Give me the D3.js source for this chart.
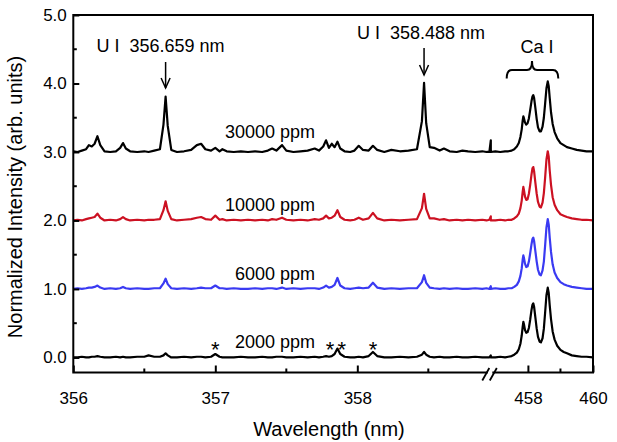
<!DOCTYPE html>
<html><head><meta charset="utf-8">
<script src="https://cdn.jsdelivr.net/npm/d3@7"></script>
<style>
body{margin:0;background:#fff}
svg{display:block}
text{font-family:"Liberation Sans",Arial,Helvetica,sans-serif;fill:#000}
</style>
</head><body>
<svg id="chart" width="617" height="442"></svg>
<script>
// ---------------- DATA ----------------
const waveLeft = [
356.00, 356.03, 356.06, 356.09, 356.11, 356.13, 356.15, 356.17, 356.19, 356.22,
356.26, 356.30, 356.33, 356.35, 356.37, 356.40, 356.45, 356.50, 356.53, 356.57,
356.61, 356.635, 356.65, 356.665, 356.69, 356.73, 356.78, 356.83, 356.87, 356.90,
356.93, 356.97, 357.00, 357.03, 357.05, 357.08, 357.13, 357.18, 357.23, 357.28,
357.33, 357.37, 357.40, 357.43, 357.47, 357.50, 357.55, 357.60, 357.65, 357.70,
357.73, 357.76, 357.78, 357.80, 357.82, 357.84, 357.86, 357.88, 357.91, 357.95,
357.98, 358.01, 358.04, 358.08, 358.11, 358.14, 358.19, 358.24, 358.30, 358.36,
358.42, 358.455, 358.47, 358.485, 358.51, 358.54, 358.58, 358.61, 358.65, 358.70,
358.74, 358.78, 358.83, 358.88, 358.91, 358.93, 358.94];

const waveRight = [
456.86, 457.00, 457.15, 457.30, 457.40, 457.50, 457.58, 457.66, 457.72, 457.77,
457.81, 457.84, 457.86, 457.88, 457.91, 457.95, 457.99, 458.03, 458.07, 458.11,
458.14, 458.165, 458.19, 458.23, 458.27, 458.31, 458.36, 458.40, 458.45, 458.49,
458.53, 458.57, 458.61, 458.64, 458.67, 458.71, 458.76, 458.82, 458.90, 459.00,
459.10, 459.20, 459.35, 459.50, 459.65, 459.80, 460.00];

const ppm2000Left = [
0.00, 0.00, 0.01, 0.00, 0.00, 0.01, 0.01, 0.02, 0.01, 0.00,
0.00, 0.01, 0.00, 0.01, 0.00, 0.00, 0.01, 0.01, 0.03, 0.01,
0.01, 0.03, 0.06, 0.03, 0.00, 0.00, 0.01, 0.00, 0.01, 0.01,
0.00, 0.01, 0.05, 0.01, 0.00, 0.00, 0.00, 0.01, 0.00, 0.00,
0.01, 0.00, 0.00, 0.01, 0.01, 0.00, 0.00, 0.01, 0.00, 0.01,
0.00, 0.01, 0.02, 0.01, 0.02, 0.05, 0.13, 0.05, 0.01, 0.00,
0.00, 0.01, 0.00, 0.02, 0.08, 0.02, 0.00, 0.00, 0.01, 0.00,
0.01, 0.04, 0.08, 0.04, 0.01, 0.00, 0.01, 0.00, 0.00, 0.01,
0.00, 0.00, 0.01, 0.00, 0.00, 0.00, 0.03];
const ppm2000Right = [
0.00, 0.00, 0.01, 0.00, 0.01, 0.02, 0.04, 0.07, 0.12, 0.20,
0.32, 0.45, 0.52, 0.48, 0.40, 0.36, 0.37, 0.43, 0.55, 0.69,
0.77, 0.79, 0.74, 0.58, 0.42, 0.30, 0.23, 0.22, 0.28, 0.42,
0.66, 0.91, 1.02, 0.94, 0.76, 0.56, 0.38, 0.26, 0.17, 0.11,
0.08, 0.06, 0.03, 0.02, 0.01, 0.01, 0.00];

const ppm6000Left = [
0.00, 0.01, 0.00, 0.01, 0.02, 0.02, 0.03, 0.05, 0.02, 0.00,
0.01, 0.00, 0.01, 0.03, 0.01, 0.00, 0.01, 0.00, 0.00, 0.01,
0.01, 0.08, 0.15, 0.07, 0.01, 0.00, 0.01, 0.00, 0.01, 0.02,
0.01, 0.01, 0.05, 0.01, 0.01, 0.00, 0.01, 0.00, 0.00, 0.01,
0.00, 0.01, 0.01, 0.00, 0.02, 0.00, 0.01, 0.00, 0.01, 0.01,
0.00, 0.02, 0.05, 0.02, 0.03, 0.06, 0.16, 0.05, 0.01, 0.00,
0.01, 0.02, 0.01, 0.02, 0.09, 0.02, 0.00, 0.01, 0.00, 0.01,
0.01, 0.10, 0.20, 0.09, 0.02, 0.01, 0.00, 0.01, 0.00, 0.01,
0.00, 0.00, 0.01, 0.00, 0.01, 0.00, 0.04];
const ppm6000Right = [
0.00, 0.01, 0.00, 0.00, 0.01, 0.01, 0.03, 0.06, 0.11, 0.19,
0.30, 0.43, 0.49, 0.45, 0.37, 0.32, 0.33, 0.40, 0.52, 0.65,
0.73, 0.75, 0.70, 0.55, 0.40, 0.28, 0.21, 0.20, 0.27, 0.40,
0.64, 0.90, 1.02, 0.94, 0.75, 0.54, 0.36, 0.24, 0.16, 0.10,
0.07, 0.05, 0.03, 0.02, 0.01, 0.00, 0.00];

const ppm10000Left = [
0.00, 0.01, 0.00, 0.02, 0.03, 0.04, 0.05, 0.10, 0.04, 0.00,
0.01, 0.00, 0.02, 0.05, 0.02, 0.00, 0.01, 0.00, 0.01, 0.01,
0.02, 0.15, 0.28, 0.14, 0.02, 0.00, 0.01, 0.02, 0.04, 0.05,
0.02, 0.01, 0.07, 0.01, 0.02, 0.00, 0.01, 0.00, 0.01, 0.00,
0.01, 0.00, 0.02, 0.01, 0.04, 0.01, 0.00, 0.01, 0.00, 0.02,
0.01, 0.03, 0.07, 0.03, 0.04, 0.07, 0.15, 0.05, 0.01, 0.00,
0.01, 0.04, 0.01, 0.03, 0.11, 0.03, 0.00, 0.01, 0.00, 0.01,
0.02, 0.18, 0.39, 0.17, 0.03, 0.03, 0.01, 0.02, 0.00, 0.01,
0.00, 0.01, 0.00, 0.01, 0.00, 0.01, 0.06];
const ppm10000Right = [
0.00, 0.00, 0.01, 0.00, 0.01, 0.01, 0.03, 0.06, 0.10, 0.18,
0.29, 0.42, 0.49, 0.44, 0.35, 0.30, 0.31, 0.39, 0.52, 0.67,
0.76, 0.78, 0.72, 0.55, 0.39, 0.27, 0.20, 0.19, 0.26, 0.40,
0.63, 0.89, 1.01, 0.93, 0.73, 0.52, 0.34, 0.23, 0.15, 0.09,
0.07, 0.05, 0.03, 0.02, 0.01, 0.01, 0.00];

const ppm30000Left = [
0.01, 0.00, 0.02, 0.04, 0.10, 0.08, 0.12, 0.23, 0.10, 0.01,
0.00, 0.01, 0.06, 0.13, 0.05, 0.01, 0.00, 0.01, 0.00, 0.02,
0.04, 0.40, 0.81, 0.38, 0.03, 0.00, 0.01, 0.03, 0.10, 0.12,
0.04, 0.02, 0.06, 0.01, 0.04, 0.01, 0.00, 0.01, 0.00, 0.01,
0.00, 0.02, 0.05, 0.02, 0.10, 0.02, 0.00, 0.01, 0.02, 0.05,
0.02, 0.08, 0.17, 0.06, 0.12, 0.07, 0.15, 0.05, 0.01, 0.00,
0.02, 0.09, 0.03, 0.02, 0.09, 0.03, 0.00, 0.03, 0.01, 0.02,
0.04, 0.45, 1.01, 0.42, 0.07, 0.06, 0.02, 0.05, 0.01, 0.00,
0.02, 0.01, 0.00, 0.01, 0.00, 0.00, 0.17];
const ppm30000Right = [
0.00, 0.01, 0.00, 0.01, 0.01, 0.02, 0.04, 0.08, 0.13, 0.22,
0.33, 0.46, 0.52, 0.49, 0.43, 0.40, 0.42, 0.49, 0.61, 0.74,
0.81, 0.83, 0.79, 0.64, 0.48, 0.36, 0.30, 0.30, 0.37, 0.50,
0.71, 0.93, 1.03, 0.96, 0.79, 0.58, 0.41, 0.29, 0.20, 0.13,
0.10, 0.07, 0.05, 0.03, 0.02, 0.01, 0.01];

const seriesNames = ["2000 ppm", "6000 ppm", "10000 ppm", "30000 ppm"];
const seriesOffsets = [0, 1, 2, 3];
const labelLevels = [0.14, 1.13, 2.14, 3.21];

const yTickValues = [0, 1, 2, 3, 4, 5];
const yMinorValues = [0.5, 1.5, 2.5, 3.5, 4.5];
const xTickValues = [356, 357, 358, 458, 460];
const xMinorValues = [356.5, 357.5, 358.5, 459];

const uLines = ["U I  356.659 nm", "U I  358.488 nm"];
const uLineWaves = [356.65, 358.47];
const caLabel = "Ca I";
const asteriskWaves = [357.0, 357.86, 358.11];
const asteriskTexts = ["*", "**", "*"];

// ---------------- STYLE / LAYOUT ----------------
const colors = ["#000000", "#3a3af2", "#cc1122", "#000000"];
const L = 73.3, R = 593, T = 15, B = 372.5, BRK = 490.8;

const svg = d3.select("#chart");
const x = d3.scaleLinear().domain([356, 358.94, 456.86, 460]).range([L, BRK, BRK, R]);
const y = d3.scaleLinear().domain([-0.22, 5]).range([B, T]);

svg.append("defs").append("clipPath").attr("id", "clip")
  .append("rect").attr("x", L).attr("y", T).attr("width", R - L).attr("height", B - T);

const allLeft = [ppm2000Left, ppm6000Left, ppm10000Left, ppm30000Left];
const allRight = [ppm2000Right, ppm6000Right, ppm10000Right, ppm30000Right];

const line = d3.line().x(d => x(d[0])).y(d => y(d[1]));
const gLines = svg.append("g").attr("clip-path", "url(#clip)");
seriesNames.forEach((name, i) => {
  const pts = waveLeft.map((w, j) => [w, allLeft[i][j] + seriesOffsets[i]])
    .concat(waveRight.map((w, j) => [w, allRight[i][j] + seriesOffsets[i]]));
  gLines.append("path").datum(pts)
    .attr("d", line).attr("fill", "none")
    .attr("stroke", colors[i]).attr("stroke-width", 2.2)
    .attr("stroke-linejoin", "round");
});

// axes
const fs = 17;
const yAxis = d3.axisLeft(y).tickValues(yTickValues).tickFormat(d3.format(".1f"))
  .tickSizeInner(-6).tickSizeOuter(0).tickPadding(6.5);
const gy = svg.append("g").attr("transform", `translate(${L},0)`).call(yAxis);
gy.select(".domain").remove();
gy.selectAll(".tick line").attr("stroke", "#000").attr("stroke-width", 2);
gy.selectAll(".tick text").attr("font-size", fs).attr("font-family", null).attr("fill", "#000");
gy.selectAll(".minor").data(yMinorValues).enter().append("line")
  .attr("x1", 0).attr("x2", 3.5).attr("y1", d => y(d)).attr("y2", d => y(d))
  .attr("stroke", "#000").attr("stroke-width", 2);

const xAxis = d3.axisBottom(x).tickValues(xTickValues).tickFormat(d3.format("d"))
  .tickSizeInner(-7).tickSizeOuter(0).tickPadding(19);
const gx = svg.append("g").attr("transform", `translate(0,${B})`).call(xAxis);
gx.select(".domain").remove();
gx.selectAll(".tick line").attr("stroke", "#000").attr("stroke-width", 2);
gx.selectAll(".tick text").attr("font-size", fs).attr("font-family", null).attr("fill", "#000");
gx.selectAll(".minor").data(xMinorValues).enter().append("line")
  .attr("x1", d => x(d)).attr("x2", d => x(d)).attr("y1", 0).attr("y2", -4)
  .attr("stroke", "#000").attr("stroke-width", 2);

// frame
svg.append("rect").attr("x", L).attr("y", T).attr("width", R - L).attr("height", B - T)
  .attr("fill", "none").attr("stroke", "#000").attr("stroke-width", 2);

// axis break
const gb = svg.append("g");
gb.append("line").attr("x1", BRK - 3).attr("x2", BRK + 1.5).attr("y1", B).attr("y2", B)
  .attr("stroke", "#fff").attr("stroke-width", 4);
[-4.5, 3].forEach(dx => {
  gb.append("line").attr("x1", BRK + dx - 4).attr("y1", B + 8)
    .attr("x2", BRK + dx + 3).attr("y2", B - 4.5)
    .attr("stroke", "#000").attr("stroke-width", 1.8);
});

// axis titles
svg.append("text").attr("x", 329).attr("y", 436).attr("text-anchor", "middle")
  .attr("font-size", 20).text("Wavelength (nm)");
svg.append("text").attr("transform", "translate(22,197) rotate(-90)")
  .attr("text-anchor", "middle").attr("font-size", 20)
  .text("Normalized Intensity (arb. units)");

// series labels
seriesNames.forEach((name, i) => {
  svg.append("text").attr("x", 315).attr("y", y(labelLevels[i]))
    .attr("text-anchor", "end").attr("font-size", 18).text(name);
});

// U I annotations with arrows
const uLabelPos = [[96.5, 52.3], [357, 39.3]];
const arrowSpan = [[62, 88], [48, 75]];
uLines.forEach((t, i) => {
  svg.append("text").attr("x", uLabelPos[i][0]).attr("y", uLabelPos[i][1])
    .attr("font-size", 18).attr("xml:space", "preserve").style("white-space", "pre").text(t);
  const ax = x(uLineWaves[i]);
  const [a0, a1] = arrowSpan[i];
  svg.append("line").attr("x1", ax).attr("x2", ax).attr("y1", a0).attr("y2", a1)
    .attr("stroke", "#000").attr("stroke-width", 1.5);
  svg.append("path").attr("d", `M${ax - 4.5},${a1 - 10} L${ax},${a1} L${ax + 4.5},${a1 - 10}`)
    .attr("fill", "none").attr("stroke", "#000").attr("stroke-width", 1.5);
});

// Ca I bracket
svg.append("text").attr("x", 537).attr("y", 53).attr("text-anchor", "middle")
  .attr("font-size", 18).text(caLabel);
svg.append("path")
  .attr("d", "M506.7,78.5 Q506.7,70 512,70 L527,70 Q532,70 532,61 Q532,70 537,70 L553,70 Q558.3,70 558.3,78.5")
  .attr("fill", "none").attr("stroke", "#000").attr("stroke-width", 2);

// asterisks
asteriskWaves.forEach((w, i) => {
  svg.append("text").attr("x", x(w)).attr("y", 356.5).attr("text-anchor", "middle")
    .attr("font-size", 22).attr("letter-spacing", asteriskTexts[i].length > 1 ? 3 : 0)
    .text(asteriskTexts[i]);
});
</script>
</body></html>
